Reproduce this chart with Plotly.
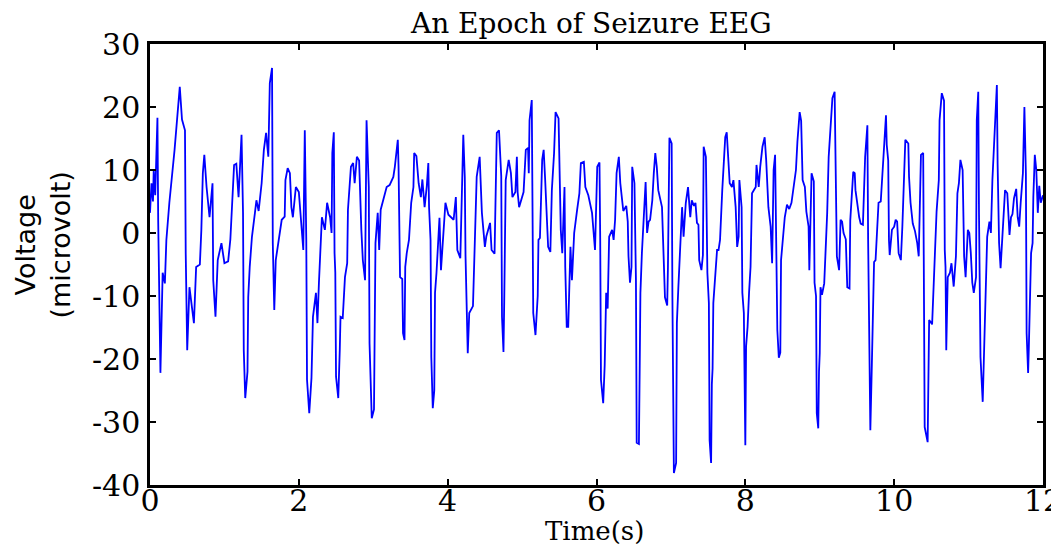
import plotly.graph_objects as go

# EEG epoch: time in seconds, amplitude in microvolts
time_s = [
    0.00, 0.02, 0.04, 0.05, 0.07, 0.10, 0.11, 0.14, 0.17, 0.20, 0.22, 0.26, 0.33, 0.37, 0.40, 0.43, 0.47, 0.48, 0.50, 0.53,
    0.59, 0.62, 0.67, 0.69, 0.71, 0.73, 0.76, 0.80, 0.84, 0.85, 0.88, 0.91, 0.96, 1.00, 1.05, 1.08, 1.10, 1.13, 1.16, 1.19,
    1.23, 1.25, 1.26, 1.28, 1.31, 1.32, 1.34, 1.37, 1.41, 1.43, 1.46, 1.50, 1.53, 1.56, 1.59, 1.61, 1.64, 1.65, 1.67, 1.69,
    1.77, 1.81, 1.82, 1.85, 1.88, 1.90, 1.92, 1.96, 2.00, 2.03, 2.06, 2.08, 2.10, 2.11, 2.14, 2.17, 2.19, 2.23, 2.25, 2.27,
    2.29, 2.31, 2.35, 2.38,
    2.42, 2.44, 2.45, 2.47, 2.48, 2.49, 2.50, 2.53, 2.55, 2.56, 2.59, 2.62, 2.65, 2.66, 2.70, 2.73, 2.75, 2.78, 2.81, 2.82,
    2.84, 2.86, 2.89, 2.91, 2.94, 2.95, 2.98, 3.01, 3.02, 3.03, 3.06, 3.08, 3.10, 3.13, 3.18, 3.22, 3.27, 3.29, 3.33, 3.34,
    3.36, 3.39, 3.40, 3.42, 3.43, 3.45, 3.48, 3.51, 3.54, 3.55, 3.58,
    3.61, 3.64, 3.66, 3.69, 3.72, 3.74, 3.75, 3.77, 3.78, 3.80, 3.82, 3.83, 3.85, 3.87, 3.89, 3.91, 3.94, 3.97, 4.01, 4.08,
    4.11, 4.13, 4.17, 4.19, 4.21, 4.23, 4.24, 4.27, 4.29, 4.34, 4.37, 4.39, 4.43, 4.46, 4.50, 4.52, 4.57, 4.59, 4.63, 4.66,
    4.69, 4.72, 4.73, 4.75, 4.76, 4.78, 4.82,
    4.85, 4.87, 4.91, 4.93, 4.94, 4.96, 5.00, 5.02, 5.05, 5.08, 5.09, 5.10, 5.13, 5.14, 5.15, 5.18, 5.21, 5.22, 5.24, 5.27,
    5.29, 5.31, 5.33, 5.35, 5.38, 5.40, 5.43, 5.45, 5.49, 5.50, 5.52, 5.54, 5.57, 5.58, 5.60, 5.62, 5.65, 5.67, 5.70, 5.74,
    5.77, 5.79, 5.83, 5.85, 5.89, 5.94, 5.96, 5.98, 6.01, 6.04,
    6.05, 6.06, 6.09, 6.11, 6.13, 6.15, 6.17, 6.21, 6.23, 6.25, 6.27, 6.30, 6.32, 6.34, 6.36, 6.40, 6.42, 6.43, 6.45, 6.47,
    6.48, 6.51, 6.53, 6.54, 6.57, 6.58, 6.59, 6.61, 6.63, 6.66, 6.68, 6.70, 6.72, 6.75, 6.77, 6.79, 6.81, 6.83, 6.88, 6.90,
    6.92, 6.95, 6.96, 6.98, 7.01, 7.02, 7.04, 7.07, 7.08, 7.10, 7.13, 7.15, 7.17, 7.20, 7.23,
    7.26, 7.28, 7.31, 7.33, 7.35, 7.37, 7.38, 7.41, 7.43, 7.44, 7.47, 7.49, 7.51, 7.52, 7.54, 7.55, 7.56, 7.57, 7.60, 7.62,
    7.64, 7.66, 7.69, 7.71, 7.73, 7.75, 7.77, 7.79, 7.82, 7.84, 7.87, 7.89, 7.91, 7.92, 7.95, 7.96, 7.98, 7.99, 8.00, 8.01,
    8.03, 8.05, 8.07, 8.09, 8.14, 8.15, 8.18, 8.20, 8.23, 8.26, 8.28, 8.31, 8.34, 8.36, 8.38, 8.40, 8.42, 8.43, 8.45,
    8.47, 8.48, 8.50, 8.53, 8.56, 8.59, 8.62, 8.65, 8.68, 8.70, 8.73, 8.75, 8.77, 8.80, 8.82, 8.85, 8.86, 8.89, 8.92, 8.93,
    8.95, 8.96, 8.98, 8.99, 9.00, 9.01, 9.03, 9.06, 9.08, 9.10, 9.12, 9.15, 9.17, 9.20, 9.21, 9.23, 9.26, 9.28, 9.30, 9.32,
    9.35, 9.37, 9.40, 9.41, 9.45, 9.47, 9.48, 9.50, 9.53, 9.55, 9.58, 9.61, 9.64, 9.65, 9.67, 9.68,
    9.70, 9.71, 9.73, 9.75, 9.77, 9.79, 9.82, 9.84, 9.86, 9.89, 9.90, 9.92, 9.93, 9.94, 9.97, 10.00, 10.02, 10.04, 10.06, 10.09,
    10.11, 10.13, 10.15, 10.19, 10.20, 10.22, 10.25, 10.28, 10.31, 10.33, 10.36, 10.39, 10.40, 10.41, 10.45, 10.46, 10.47, 10.51, 10.54, 10.56,
    10.57, 10.60, 10.61, 10.64, 10.67, 10.68, 10.69, 10.70, 10.72, 10.75, 10.77, 10.80, 10.83, 10.85, 10.87, 10.89,
    10.92, 10.94, 10.96, 10.99, 11.01, 11.03, 11.05, 11.07, 11.10, 11.11, 11.13, 11.14, 11.16, 11.19, 11.21, 11.23, 11.25, 11.28, 11.30, 11.32,
    11.36, 11.38, 11.39, 11.41, 11.43, 11.46, 11.49, 11.52, 11.55, 11.57, 11.59, 11.61, 11.64, 11.66, 11.68, 11.70, 11.73, 11.75, 11.77, 11.78,
    11.80, 11.81, 11.84, 11.86, 11.87, 11.89, 11.91, 11.93, 11.95, 11.97, 12.00,
]
voltage_uv = [
    3.2, 7.9, 5, 10, 6, 18.3, 2, -22.2, -6.3, -8, -1.1, 4.8, 13.2, 18.4, 23.2, 18, 16.3, -3.2, -18.6, -8.6,
    -14.3, -5.4, -5, 0.5, 9.5, 12.4, 7.3, 2.5, 7.9, -7.5, -13.3, -4.3, -1.6, -4.8, -4.5, -1, 4.8, 10.8, 11, 5.7,
    15.6, 3.2, -18.6, -26.2, -22, -10.2, -5.4, -0.6, 3.2, 5.2, 3.5, 7.9, 13.2, 15.9, 12.1, 23.8, 26.2, -1.6, -12.2, -4.3,
    2.1, 2.6, 8.4, 10.3, 9.5, 4.1, 2.5, 7.3, 6.5, 2.5, -2.7, 16.3, -1.1, -23.3, -28.6, -23, -13.3, -9.5, -14.3, -7.9,
    -2.2, 2.5, 0.5, 4.8,
    2.5, 0, 12.7, 16, -3.2, -6.3, -22.8, -26.2, -18.6, -13.3, -13.5, -7, -4.8, 3.7, 10.5, 11.1, 7.9, 12.1, 11.5, 6.3,
    0.5, -4.3, -7.5, 17.9, 7.3, -17.5, -29.4, -28, -16.5, -1.6, 3.2, -2.7, 3.7, 5.2, 7.3, 7.6, 8.9, 10.5, 14.8, 10.5,
    -7, -7.3, -15.9, -17, -5.4, -3.2, -1.1, 4.8, 7.3, 12.7, 12.2,
    7.9, 5.7, 8.5, 4.1, 7.5, 11.1, 4.1, -1.1, -19.7, -27.8, -25, -9.5, -6.3, -1.1, 2.4, -5.9, 0, 4.8, 2.9, 2.1,
    5.7, -2.7, -4, 4, 15.6, 8.9, -3.7, -19.1, -12.7, -11.6, 0.5, 8.9, 12.1, 3.2, -2.2, -0.5, 1.6, -2.7, -3.3, 15.9,
    16.3, 9, -13.3, -18.9, -11, 8.4, 11.6,
    9.5, 5.7, 6.5, 12.1, 6.5, 4.1, 5.5, 6.5, 13.2, 13.5, 9.5, 17.9, 21.1, -1.1, -12.7, -16.2, -10, -1.1, -0.8, 11.6,
    13.2, 8.5, 4.1, -2.2, -3, 6.8, 12.7, 19.2, 18.2, 11.1, 0.5, -3.2, 7.3, -5.4, -14.9, -14.9, -2.2, -7.5, 0, 3.7,
    6.3, 11.1, 11.3, 7.3, 6, 3.2, 0.5, -2.7, 10.5, 11.2,
    -1.1, -23.3, -27, -21, -9.5, -12, -0.6, 0.5, -1.1, 2.1, 9.5, 12.1, 7.9, 5.7, 3.5, 4.3, 1.8, -3.7, -7.9, -5.4,
    10.5, 7.9, -7.5, -33.3, -33.5, -22, -9.5, -3.2, 1.6, 8.1, 0, 1.8, 2.1, 5.2, 9.5, 12.7, 10.5, 6.8, 4.1, -5.4,
    -10.2, -11.5, -5.4, 15.1, 14.2, -10.2, -38.1, -36.5, -14.3, -8.6, -2.2, 4.1, -0.6, 4.8, 7.3,
    2.5, 5.2, 4.3, 4.8, 1.6, 1.3, -4.3, -5.9, -3.5, 13.7, 12.1, -6.3, -11.1, -32.9, -36.5, -24, -21.5, -11.1, -6.3, -2.7,
    -2.7, -1.1, 6.8, 11.6, 15.2, 16, 12.1, 7.9, 7.3, 8.4, 4.1, -2.2, -0.6, 8.4, 4.1, -9.5, -12.7, -32.9, -33.7, -18,
    -14.9, -9.5, -5.4, 6.3, 7.3, 10.8, 7.3, 10.5, 13.7, 15.2, 11.6, 4.1, 1, -4.8, 10, 12.4, -4.8, -15.4, -19.8,
    -19, -4.3, -1, 2.5, 4.5, 3.8, 4.8, 7.3, 10, 14.5, 19.2, 17.8, 8.4, 7.3, 3.4, 1, -5.9, 9.5, 8.2, -7.9,
    -10, -28.6, -31, -22, -19, -8.6, -9.8, -8, -2.7, 3.2, 12.1, 17.9, 21.4, 22.4, 12.7, -3.7, -5.9, 2.1, 1.8, 0,
    -1, -8.6, -8.8, 2, 9.7, 9.5, 6.8, 4.8, 2.5, 1.5, 1.3, 12.1, 17.1, -1, -27.6, -31.3,
    -21, -13.8, -4.6, -4.3, -0.6, 4.8, 5, 9.5, 14, 18.7, 14, 11.5, -1.1, -3.5, 0.5, 1, 2.1, 1.8, -3.2, -4.3,
    1, 9.5, 14.8, 14.2, 8.9, 4.8, 1.5, 0.3, -1.6, -3.7, 12.4, 12.7, -13.3, -30.8, -33.2, -22, -13.8, -14.5, -5.4, -2.2,
    3.4, 8.4, 17.9, 22.2, 21, -2.7, -5.4, -18.6, -7, -6.3, -4.8, -8.5, -3.7, 6.3, 7.9, 11.6,
    10, -3.7, -7, 0.5, 0, -3.2, -7.9, -9.5, -7, 17.9, 22.4, 3, -19.7, -26.8, -18, -5.9, -0.6, 1.8, 0, 8.4,
    19, 23.5, 11, -1.6, -5.6, 1, 6.8, 6.3, -0.3, 2.5, 3, 5.5, 7, 2.5, 1, 4.8, 9.5, 20, 9.5, -15.9,
    -22.2, -18, -3.2, -1.6, 5.7, 12.4, 10, 3.2, 7.5, 4.8, 6,
]
assert len(time_s) == len(voltage_uv)

x_ticks = [0, 2, 4, 6, 8, 10, 12]
y_ticks = [-40, -30, -20, -10, 0, 10, 20, 30]
y_tick_labels = ["-40", "-30", "-20", "-10", "0", "10", "20", "30"]

serif = "DejaVu Serif, Liberation Serif, serif"
sans = "DejaVu Sans, Liberation Sans, sans-serif"

fig = go.Figure()
fig.add_trace(go.Scatter(
    x=time_s, y=voltage_uv, mode="lines",
    line=dict(color="#0000ff", width=1.8),
    hoverinfo="x+y", showlegend=False))

axis_common = dict(
    showline=True, linecolor="black", linewidth=2.5, mirror="ticks",
    ticks="inside", ticklen=6, tickwidth=2, tickcolor="black",
    showgrid=False, zeroline=False, automargin=False,
    tickfont=dict(family=serif, size=30, color="black"))

fig.update_xaxes(range=[0, 12], tickvals=x_ticks, ticklabelstandoff=-13,
                 ticklabeloverflow="allow", **axis_common)
fig.update_yaxes(range=[-40, 30], tickvals=y_ticks, ticktext=y_tick_labels, ticklabelstandoff=1, **axis_common)

# page body adds an 8px offset, so the figure is 8px smaller on each side
fig.update_layout(
    width=1051, height=539,
    margin=dict(l=142, r=16, t=36, b=62),
    paper_bgcolor="white", plot_bgcolor="white",
    title=dict(text="An Epoch of Seizure EEG", x=0.555, xref="container", xanchor="center",
               y=0.972, yref="container", yanchor="middle",
               font=dict(family=serif, size=28, color="black")),
    annotations=[
        dict(text="Time(s)", xref="paper", yref="paper", x=0.498, y=-0.104,
             xanchor="center", yanchor="middle", showarrow=False,
             font=dict(family=serif, size=26, color="black")),
        dict(text="Voltage<br>(microvolt)", xref="paper", yref="paper", x=-0.12, y=0.545,
             xanchor="center", yanchor="middle", showarrow=False, textangle=-90,
             font=dict(family=sans, size=27, color="black")),
    ],
)

fig.write_html("out.html")
